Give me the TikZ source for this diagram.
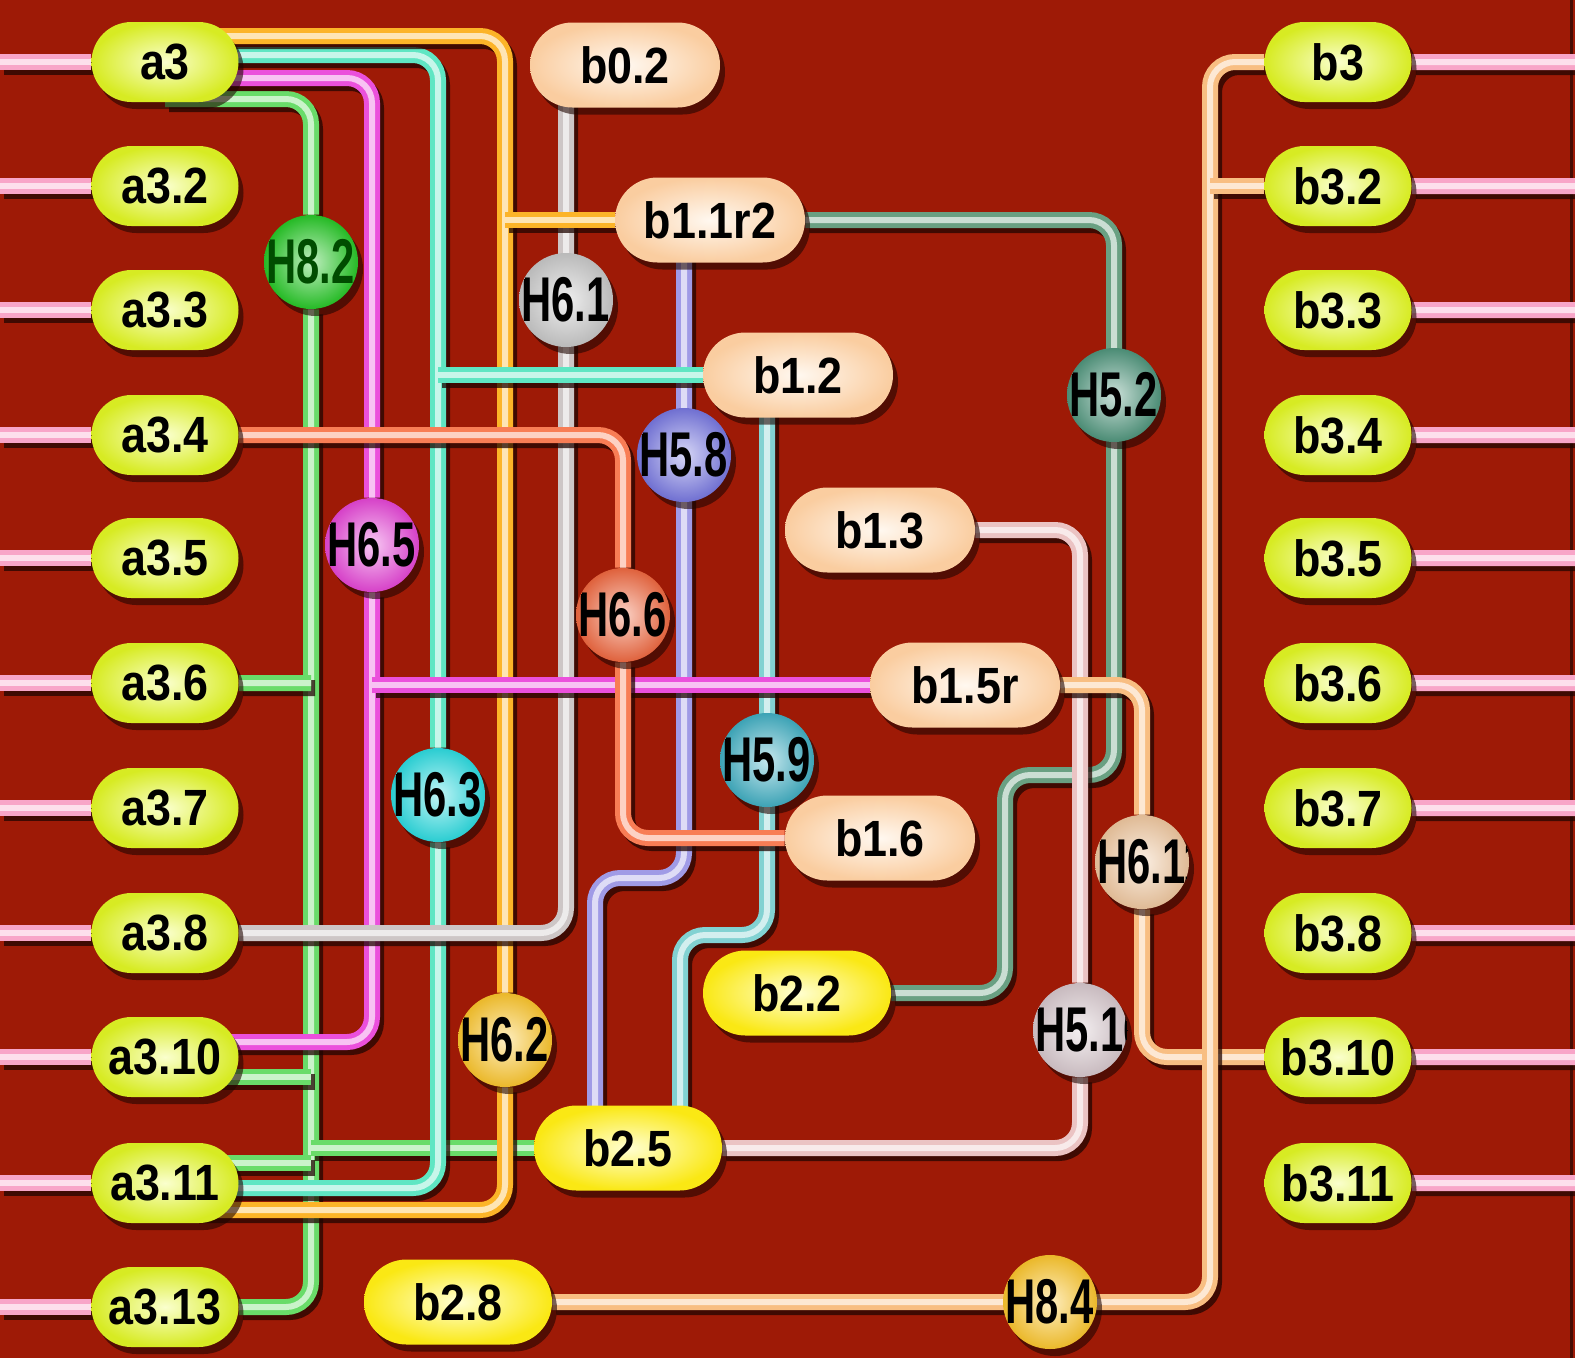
\documentclass[tikz,border=0pt]{standalone}
\usepackage{fontspec}
\usetikzlibrary{calc,shapes.misc,shadows}
\newfontfamily\labfont{Liberation Sans}[FakeStretch=0.88]
\newfontfamily\hubfont{Liberation Sans}[FakeStretch=0.66]
\pgfdeclarelayer{bg}
\pgfdeclarelayer{wires}
\pgfsetlayers{bg,wires,main}
\definecolor{bgred}{RGB}{158,26,6}
\colorlet{shd}{black!80!bgred}
% node fills
\definecolor{aIn}{RGB}{250,255,205}
\definecolor{aOut}{RGB}{215,235,35}
\definecolor{pIn}{RGB}{255,248,240}
\definecolor{pOut}{RGB}{250,205,160}
\definecolor{yIn}{RGB}{255,255,210}
\definecolor{yOut}{RGB}{250,232,20}
% hub balls
\definecolor{hgrn}{RGB}{40,200,40}
\definecolor{hgry}{RGB}{200,200,200}
\definecolor{hblu}{RGB}{120,120,225}
\definecolor{hmag}{RGB}{230,70,215}
\definecolor{hora}{RGB}{240,105,65}
\definecolor{hcyn}{RGB}{45,220,225}
\definecolor{htea}{RGB}{65,175,195}
\definecolor{hsag}{RGB}{80,150,125}
\definecolor{hpch}{RGB}{240,200,160}
\definecolor{hylw}{RGB}{252,198,45}
\definecolor{hpal}{RGB}{215,200,205}
\colorlet{hgtx}{green!30!black}
% wires
\definecolor{wpink}{RGB}{248,165,200}
\definecolor{wylw}{RGB}{252,180,40}
\definecolor{wcyn}{RGB}{95,230,195}
\definecolor{wmag}{RGB}{235,80,220}
\definecolor{wgrn}{RGB}{105,220,105}
\definecolor{wgry}{RGB}{205,198,198}
\definecolor{wsal}{RGB}{248,125,85}
\definecolor{wlav}{RGB}{160,155,230}
\definecolor{wtea}{RGB}{130,210,210}
\definecolor{wsag}{RGB}{105,160,130}
\definecolor{wpal}{RGB}{235,195,195}
\definecolor{wpch}{RGB}{248,190,130}
\tikzset{
  pill/.style={rounded rectangle,inner sep=0pt,font=\labfont\bfseries\fontsize{29}{29}\selectfont,
    drop shadow={shadow xshift=1mm,shadow yshift=-1.4mm,opacity=.6,fill=shd}},
  anode/.style={pill,minimum width=29.4mm,minimum height=16mm,inner color=aIn,outer color=aOut},
  pnode/.style={pill,minimum width=38mm,minimum height=17mm,inner color=pIn,outer color=pOut},
  ynode/.style={pill,minimum width=37.6mm,minimum height=17mm,inner color=yIn,outer color=yOut},
  hub/.style={circle,inner sep=0pt,minimum size=18.8mm,inner color=#1!30!white,outer color=#1!93!black,
    drop shadow={shadow xshift=1mm,shadow yshift=-1.4mm,opacity=.6,fill=shd}},
  hubtxt/.style={anchor=west,inner sep=0pt,font=\hubfont\bfseries\fontsize{36}{36}\selectfont},
  tube/.style={draw=#1,line width=1mm,double=#1!35!white,double distance=1.2mm,rounded corners=5mm,
    preaction={draw=shd,line width=3.2mm,opacity=.75,transform canvas={xshift=0.8mm,yshift=-1mm}}},
  stub/.style={tube=wpink},
}
\newcommand{\hubball}[4]{% #1 = name, #2 = position, #3 = ball colour, #4 = label
  \node[hub=#3] (#1) at (#2) {};
  \begin{scope}
    \clip (#1) circle (9.4mm);
    \node[hubtxt] at ([xshift=0.5mm]#1.west) {#4};
  \end{scope}}

\begin{document}
\begin{tikzpicture}[x=0.2mm,y=-0.2mm]
\useasboundingbox (0,0) rectangle (1575,1358);
\begin{pgfonlayer}{bg}
  \fill[bgred] (0,0) rectangle (1575,1358);
  \draw[black!55!bgred,line width=0.6mm] (1571,0) -- (1571,1358);
\end{pgfonlayer}
% ---- left column
\foreach \lab/\nm/\y in {a3/a3/62,a3.2/a32/186,a3.3/a33/310,a3.4/a34/435,a3.5/a35/558,a3.6/a36/683,
    a3.7/a37/808,a3.8/a38/933,a3.10/a310/1057,a3.11/a311/1183,a3.13/a313/1307}{
  \node[anode] (\nm) at (165,\y) {\lab};}
% ---- right column
\foreach \lab/\nm/\y in {b3/b3/62,b3.2/b32/186,b3.3/b33/310,b3.4/b34/435,b3.5/b35/558,b3.6/b36/683,
    b3.7/b37/808,b3.8/b38/933,b3.10/b310/1057,b3.11/b311/1183}{
  \node[anode] (\nm) at (1338,\y) {\lab};}
% ---- middle nodes
\node[pnode] (b02) at (625,65) {b0.2};
\node[pnode] (b11r2) at (710,220) {b1.1r2};
\node[pnode] (b12) at (798,375) {b1.2};
\node[pnode] (b13) at (880,530) {b1.3};
\node[pnode] (b15r) at (965,685) {b1.5r};
\node[pnode] (b16) at (880,838) {b1.6};
\node[ynode] (b22) at (797,993) {b2.2};
\node[ynode] (b25) at (628,1148) {b2.5};
\node[ynode] (b28) at (458,1302) {b2.8};
% ---- hubs
\hubball{h82}{311,262}{hgrn}{\color{hgtx}H8.2}
\hubball{h61}{566,300}{hgry}{H6.1}
\hubball{h58}{684,455}{hblu}{H5.8}
\hubball{h65}{372,545}{hmag}{H6.5}
\hubball{h66}{623,615}{hora}{H6.6}
\hubball{h63}{438,795}{hcyn}{H6.3}
\hubball{h59}{767,760}{htea}{H5.9}
\hubball{h52}{1114,395}{hsag}{H5.2}
\hubball{h611}{1142,862}{hpch}{H6.11}
\hubball{h62}{505,1040}{hylw}{H6.2}
\hubball{h510}{1080,1030}{hpal}{H5.10}
\hubball{h84}{1050,1302}{hylw}{H8.4}
% ---- wires, under the nodes
\begin{pgfonlayer}{wires}
  \foreach \nm in {a3,a32,a33,a34,a35,a36,a37,a38,a310,a311,a313}{
    \draw[stub] (\nm -| 0,0) -- (\nm);}
  \foreach \nm in {b3,b32,b33,b34,b35,b36,b37,b38,b310,b311}{
    \draw[stub] (\nm) -- (\nm -| 1575,0);}
  % bundles out of a3
  \draw[tube=wgrn] ([yshift=-7.4mm]a3.center) -| (h82) |- (a313);
  \draw[tube=wgrn] (a36) -- (h82 |- a36);
  \draw[tube=wgrn] ([yshift=-4mm]a310.center) -- ([yshift=-4mm]a310.center -| h82);
  \draw[tube=wgrn] ([yshift=4mm]a311.center) -- ([yshift=4mm]a311.center -| h82);
  \draw[tube=wgrn] (h82 |- b25) -- (b25);
  \draw[tube=wmag] ([yshift=-3.2mm]a3.center) -| (h65) |- ([yshift=3mm]a310.center);
  \draw[tube=wcyn] ([yshift=1.4mm]a3.center) -| (h63) |- ([yshift=-1mm]a311.center);
  \draw[tube=wylw] ([yshift=5.2mm]a3.center) -| (h62) |- ([yshift=-5.4mm]a311.center);
  \draw[tube=wgry] (h61 |- b02) |- (a38);
  \draw[tube=wlav] (h58 |- b11r2) -- (h58 |- 0,878) -| ([xshift=-6.6mm]b25.center);
  \draw[tube=wtea] (h59 |- b12) -- (h59 |- 0,935) -| ([xshift=10.4mm]b25.center);
  \draw[tube=wsag] (b11r2) -| (h52 |- 0,775) -| (b22 -| 1005,0) -- (b22);
  \draw[tube=wpal] (b13) -| (h510) |- (b25);
  \draw[tube=wpch] (b15r) -| (h611) |- (b310);
  \draw[tube=wpch] (b28) -| (b3 -| 1210,0) -- (b3);
  \draw[tube=wpch] (b32 -| 1210,0) -- (b32);
  % branches to the b1 row
  \draw[tube=wylw] (h62 |- b11r2) -- (b11r2);
  \draw[tube=wcyn] (h63 |- b12) -- (b12);
  \draw[tube=wmag] (h65 |- b15r) -- (b15r);
  \draw[tube=wsal] (a34) -| (h66) |- (b16);
\end{pgfonlayer}
\end{tikzpicture}
\end{document}
